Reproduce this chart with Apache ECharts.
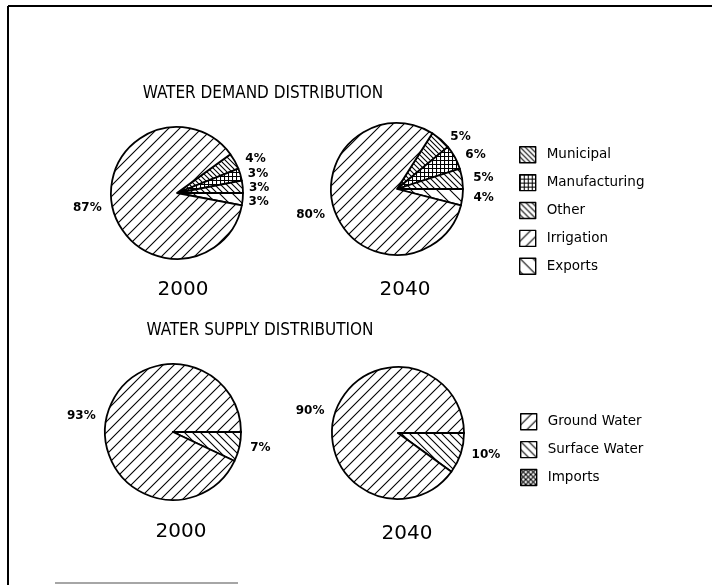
<!DOCTYPE html>
<html lang="en">
<head>
  <meta charset="UTF-8">
  <title>Water Demand and Supply Distribution</title>
  <script src="https://cdn.jsdelivr.net/npm/echarts@6/dist/echarts.min.js"></script>
  <style>
    html, body { margin: 0; padding: 0; background: #fff; }
    #main { width: 712px; height: 585px; }
  </style>
</head>
<body>
  <div id="main"></div>
  <script>
    // data
    var demandNames = ['Municipal', 'Manufacturing', 'Other', 'Irrigation', 'Exports']
    var demand2000 = [4, 3, 3, 87, 3]
    var demand2040 = [5, 6, 5, 80, 4]
    var supplyNames = ['Ground Water', 'Surface Water', 'Imports']
    var supply2000 = [93, 7, 0]
    var supply2040 = [90, 10, 0]
    var years = ['2000', '2040']

    // hatch tiles used as fills
    function tile(size, draw) {
      var c = document.createElement('canvas')
      c.width = size; c.height = size
      var ctx = c.getContext('2d')
      ctx.fillStyle = '#fff'
      ctx.fillRect(0, 0, size, size)
      ctx.strokeStyle = '#000'
      ctx.lineWidth = 1.1
      draw(ctx, size)
      return { image: c, repeat: 'repeat' }
    }
    function fwd(ctx, s) { // "/"
      ctx.beginPath()
      ctx.moveTo(-1, s + 1); ctx.lineTo(s + 1, -1)
      ctx.moveTo(-1, 1); ctx.lineTo(1, -1)
      ctx.moveTo(s - 1, s + 1); ctx.lineTo(s + 1, s - 1)
      ctx.stroke()
    }
    function back(ctx, s) { // "\"
      ctx.beginPath()
      ctx.moveTo(-1, -1); ctx.lineTo(s + 1, s + 1)
      ctx.moveTo(s - 1, -1); ctx.lineTo(s + 1, 1)
      ctx.moveTo(-1, s - 1); ctx.lineTo(1, s + 1)
      ctx.stroke()
    }
    function grid(ctx, s) {
      ctx.beginPath()
      ctx.moveTo(0, 0.5); ctx.lineTo(s, 0.5)
      ctx.moveTo(0.5, 0); ctx.lineTo(0.5, s)
      ctx.stroke()
    }
    function cross(ctx, s) { fwd(ctx, s); back(ctx, s) }

    var fills = {
      'Municipal': tile(5, back),
      'Manufacturing': tile(4, grid),
      'Other': tile(6, back),
      'Irrigation': tile(11, fwd),
      'Exports': tile(13, back),
      'Ground Water': tile(11, fwd),
      'Surface Water': tile(8, back),
      'Imports': tile(5, cross)
    }

    // slice order: small slices first, from the angle where they start, then the big one
    function demandData(vals) {
      var order = ['Municipal', 'Manufacturing', 'Other', 'Exports', 'Irrigation']
      return order.map(function (n) {
        return { name: n, value: vals[demandNames.indexOf(n)], itemStyle: { color: fills[n] } }
      })
    }
    function supplyData(vals) {
      var order = ['Surface Water', 'Ground Water', 'Imports']
      return order.map(function (n) {
        var v = vals[supplyNames.indexOf(n)]
        return { name: n, value: v, itemStyle: { color: fills[n] }, label: { show: v > 0 } }
      })
    }
    function aboveAngle(vals) {
      // the slices above the horizontal line, drawn clockwise from there
      return (vals[0] + vals[1] + vals[2]) / 100 * 360
    }

    function pie(data, center, r, start) {
      return {
        type: 'pie',
        center: center,
        radius: r,
        startAngle: start,
        clockwise: true,
        animation: false,
        silent: true,
        stillShowZeroSum: false,
        itemStyle: { borderColor: '#000', borderWidth: 1.8 },
        label: {
          show: true,
          position: 'outside',
          formatter: '{c}%',
          color: '#000',
          fontSize: 12,
          fontWeight: 'bold',
          fontFamily: 'DejaVu Sans'
        },
        labelLine: { show: false, length: 4, length2: 2 },
        emphasis: { disabled: true },
        data: data
      }
    }

    var headFont = 'DejaVu Sans Condensed, Liberation Sans Narrow, Roboto Condensed, Roboto, sans-serif'
    var yearStyle = { fontSize: 20, fontWeight: 'normal', color: '#000', fontFamily: 'DejaVu Sans' }
    var headStyle = { fontSize: 17, fontWeight: 'normal', color: '#000', fontFamily: headFont }
    var legendText = { fontSize: 13.5, color: '#000', fontFamily: 'DejaVu Sans', padding: [0, 0, 0, 6] }

    var chart = echarts.init(document.getElementById('main'), null, { renderer: 'canvas' })
    var option = {
      backgroundColor: '#fff',
      animation: false,
      title: [
        { text: 'WATER DEMAND DISTRIBUTION', left: 258, top: 80, textAlign: 'center', textStyle: headStyle },
        { text: 'WATER SUPPLY DISTRIBUTION', left: 255, top: 317, textAlign: 'center', textStyle: headStyle },
        { text: years[0], left: 178, top: 275, textAlign: 'center', textStyle: yearStyle },
        { text: years[1], left: 400, top: 275, textAlign: 'center', textStyle: yearStyle },
        { text: years[0], left: 176, top: 517, textAlign: 'center', textStyle: yearStyle },
        { text: years[1], left: 402, top: 519, textAlign: 'center', textStyle: yearStyle }
      ],
      legend: [
        {
          data: demandNames,
          orient: 'vertical',
          left: 514,
          top: 141,
          itemWidth: 16,
          itemHeight: 16,
          itemGap: 10.5,
          icon: 'rect',
          selectedMode: false,
          itemStyle: { borderColor: '#000', borderWidth: 1.4 },
          textStyle: legendText
        },
        {
          data: supplyNames,
          orient: 'vertical',
          left: 515,
          top: 408,
          itemWidth: 16,
          itemHeight: 16,
          itemGap: 10.5,
          icon: 'rect',
          selectedMode: false,
          itemStyle: { borderColor: '#000', borderWidth: 1.4 },
          textStyle: legendText
        }
      ],
      series: [
        pie(demandData(demand2000), [177, 193], 66, aboveAngle(demand2000)),
        pie(demandData(demand2040), [397, 189], 66, aboveAngle(demand2040)),
        pie(supplyData(supply2000), [173, 432], 68, 0),
        pie(supplyData(supply2040), [398, 433], 66, 0)
      ],
      graphic: [
        // page frame
        { type: 'line', shape: { x1: 8, y1: 6, x2: 8, y2: 585 }, style: { stroke: '#000', lineWidth: 2 } },
        { type: 'line', shape: { x1: 8, y1: 6, x2: 712, y2: 6 }, style: { stroke: '#000', lineWidth: 2 } },
        { type: 'line', shape: { x1: 55, y1: 583, x2: 238, y2: 583 }, style: { stroke: '#888', lineWidth: 1.5 } }
      ]
    }
    chart.setOption(option)
  </script>
</body>
</html>
